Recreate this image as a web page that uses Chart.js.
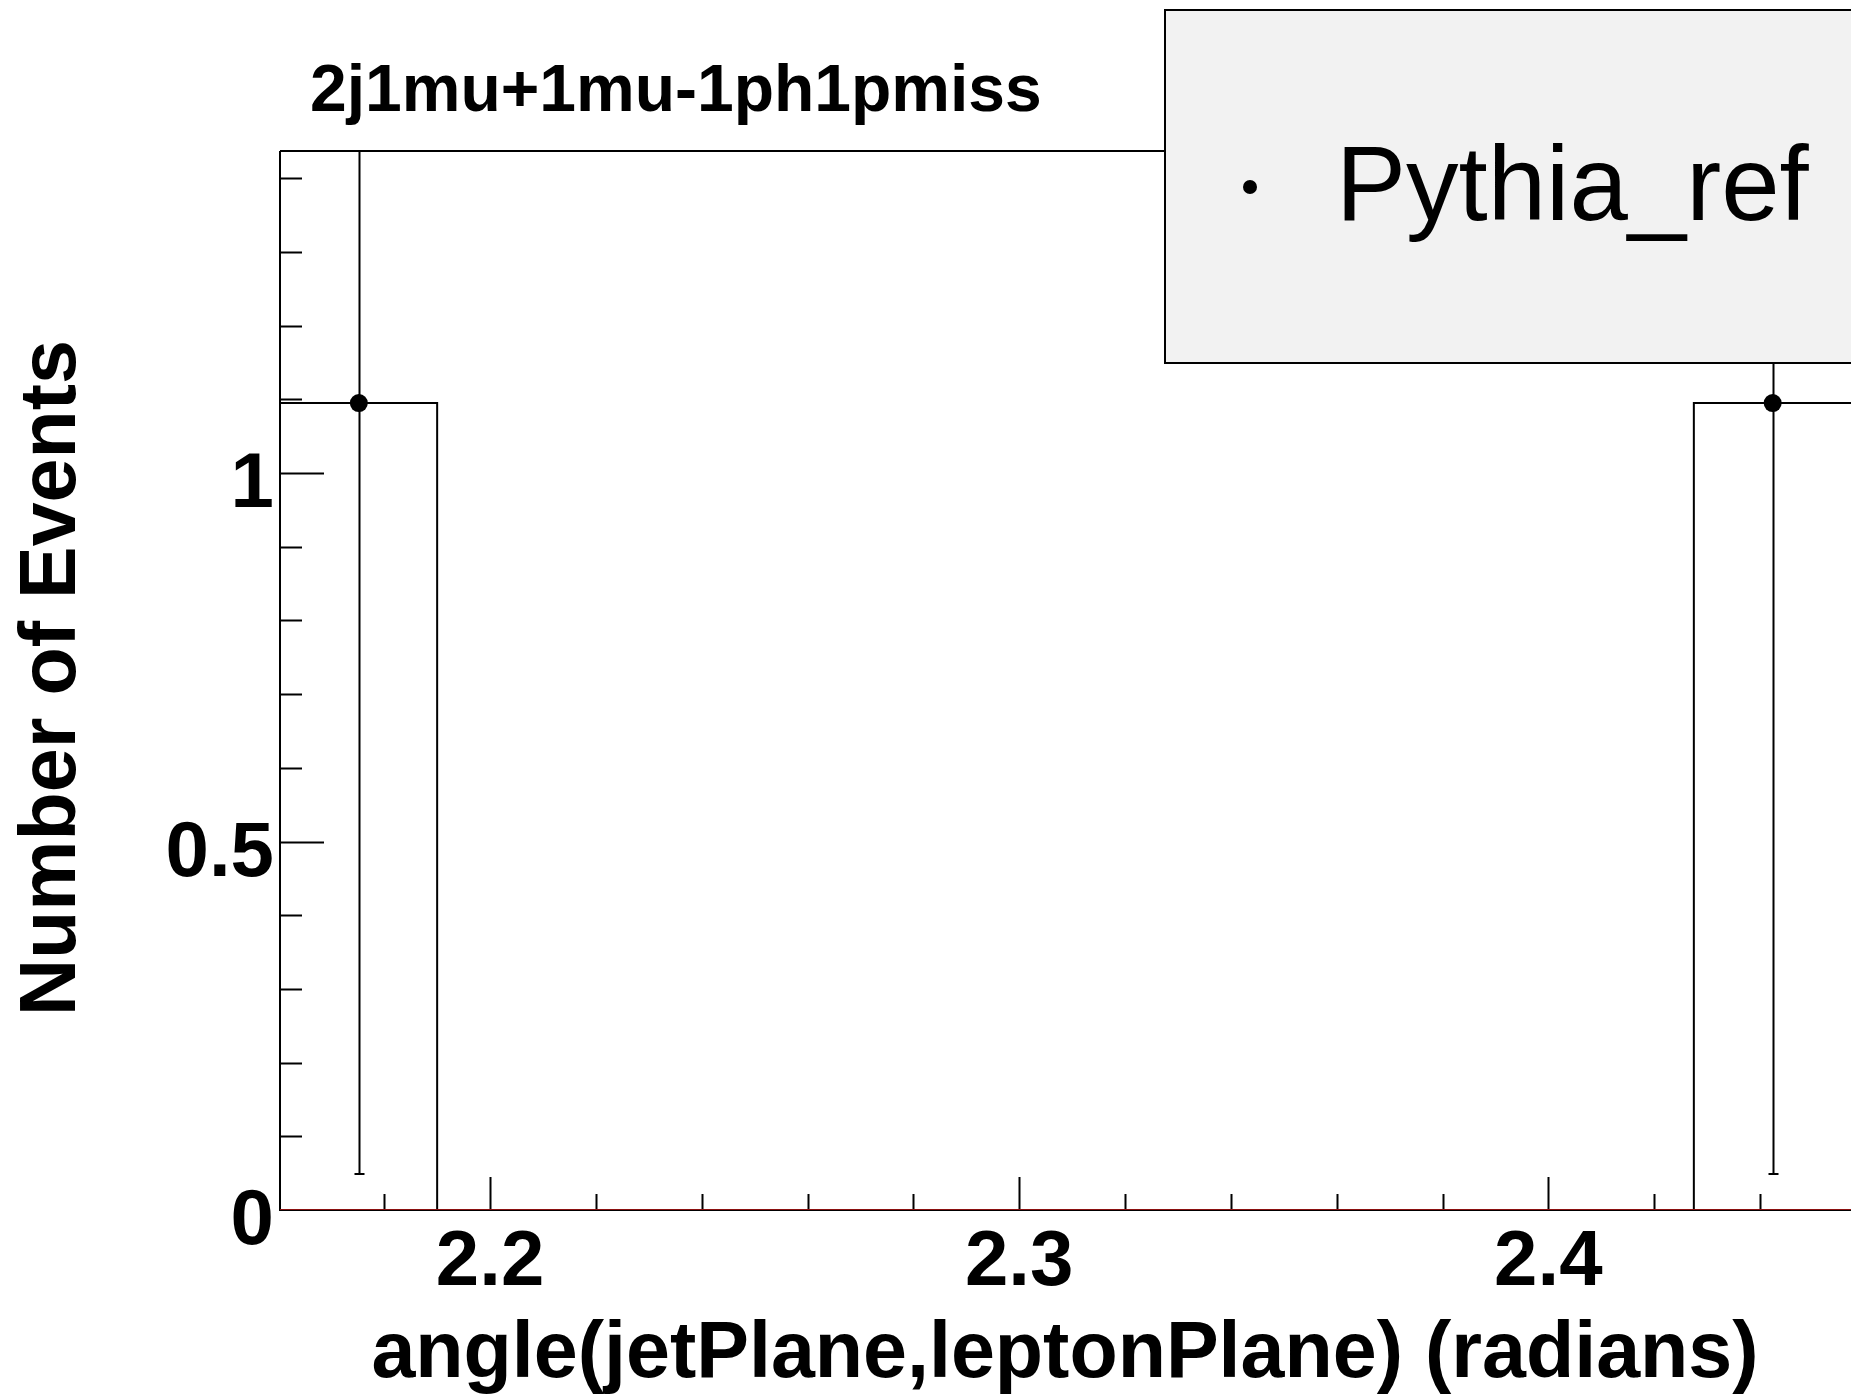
<!DOCTYPE html>
<html>
<head>
  <meta charset="UTF-8">
  <title>2j1mu+1mu-1ph1pmiss</title>
  <script src="https://cdn.jsdelivr.net/npm/chart.js"></script>
  <style>
    body { margin: 0; background: #fff; }
    canvas { display: block; }
  </style>
</head>
<body>
  <canvas id="histChart" width="1851" height="1395"></canvas>

  <script>
    // histogram data
    const binEdges = [2.1603, 2.1900, 2.2197, 2.2494, 2.2790, 2.3087, 2.3384, 2.3681, 2.3978, 2.4275, 2.4572];
    const binCenters = [2.1752, 2.2049, 2.2346, 2.2642, 2.2939, 2.3236, 2.3533, 2.3830, 2.4127, 2.4424];
    const counts = [1.095, 0, 0, 0, 0, 0, 0, 0, 0, 1.095];
    const countErrors = [1.046, 0, 0, 0, 0, 0, 0, 0, 0, 1.046];
    const otherCounts = [0, 0, 0, 0, 0, 0, 0, 0, 0, 0];   // red reference histogram, empty
    const xTickLabels = [2.2, 2.3, 2.4];
    const yTickLabels = [0, 0.5, 1];

    const FONT = "'Liberation Sans', Arial, Helvetica, sans-serif";

    // step outline: one point per bin low edge, plus the last high edge
    function stepPoints(vals) {
      const pts = vals.map((v, i) => ({ x: binEdges[i], y: v }));
      pts.push({ x: binEdges[binEdges.length - 1], y: vals[vals.length - 1] });
      return pts;
    }

    // frame, ticks, error bars, texts and legend
    const rootStyle = {
      id: 'rootStyle',
      beforeDatasetsDraw(chart) {
        const ctx = chart.ctx;
        const a = chart.chartArea;
        const xs = chart.scales.x, ys = chart.scales.y;
        ctx.save();
        ctx.strokeStyle = '#000';
        ctx.lineWidth = 2;
        // frame (left, bottom, top)
        ctx.beginPath();
        ctx.moveTo(a.left, a.top); ctx.lineTo(a.left, a.bottom); ctx.lineTo(a.right, a.bottom);
        ctx.moveTo(a.left, a.top); ctx.lineTo(a.right, a.top);
        ctx.stroke();

        // x ticks
        ctx.beginPath();
        for (let v = 2.18; v < xs.max; v += 0.02) {
          const px = Math.round(xs.getPixelForValue(v)) + 0.5;
          const major = xTickLabels.some(t => Math.abs(t - v) < 1e-6);
          ctx.moveTo(px, a.bottom);
          ctx.lineTo(px, a.bottom - (major ? 33 : 16));
        }
        // y ticks
        for (let v = 0.1; v < ys.max; v += 0.1) {
          const py = Math.round(ys.getPixelForValue(v)) + 0.5;
          const major = yTickLabels.some(t => Math.abs(t - v) < 1e-6);
          ctx.moveTo(a.left, py);
          ctx.lineTo(a.left + (major ? 44 : 22), py);
        }
        ctx.stroke();
        ctx.restore();
      },
      afterDatasetsDraw(chart) {
        const ctx = chart.ctx;
        const a = chart.chartArea;
        const xs = chart.scales.x, ys = chart.scales.y;
        ctx.save();
        ctx.strokeStyle = '#000';
        ctx.lineWidth = 2;
        ctx.beginPath();
        counts.forEach((c, i) => {
          if (c <= 0) return;
          const px = Math.round(xs.getPixelForValue(binCenters[i])) + 0.5;
          const top = Math.max(a.top, ys.getPixelForValue(c + countErrors[i]));
          const bot = ys.getPixelForValue(Math.max(0, c - countErrors[i]));
          ctx.moveTo(px, top); ctx.lineTo(px, bot);
          ctx.moveTo(px - 5, bot); ctx.lineTo(px + 5, bot);
        });
        ctx.stroke();
        ctx.restore();
      },
      afterDraw(chart) {
        const ctx = chart.ctx;
        const xs = chart.scales.x, ys = chart.scales.y;
        ctx.save();
        ctx.fillStyle = '#000';

        // tick labels
        ctx.font = 'bold 78px ' + FONT;
        ctx.textAlign = 'center';
        ctx.textBaseline = 'alphabetic';
        xTickLabels.forEach(t => ctx.fillText(String(t), xs.getPixelForValue(t), 1285));
        ctx.textAlign = 'right';
        yTickLabels.forEach(t => ctx.fillText(String(t), 274, ys.getPixelForValue(t) + 34));

        // histogram title
        ctx.font = 'bold 66px ' + FONT;
        ctx.textAlign = 'left';
        ctx.fillText('2j1mu+1mu-1ph1pmiss', 310, 111);

        // axis titles
        ctx.font = 'bold 79px ' + FONT;
        ctx.textAlign = 'center';
        ctx.fillText('angle(jetPlane,leptonPlane) (radians)', 1065, 1377);
        ctx.save();
        ctx.translate(75, 678);
        ctx.rotate(-Math.PI / 2);
        ctx.font = 'bold 79px ' + FONT;
        ctx.fillText('Number of Events', 0, 0);
        ctx.restore();

        // legend box
        ctx.fillStyle = '#f2f2f2';
        ctx.fillRect(1165, 10, 720, 353);
        ctx.strokeStyle = '#000';
        ctx.lineWidth = 2;
        ctx.strokeRect(1165, 10, 720, 353);
        ctx.fillStyle = '#000';
        ctx.beginPath();
        ctx.arc(1250, 187, 7, 0, Math.PI * 2);
        ctx.fill();
        ctx.font = '105px ' + FONT;
        ctx.textAlign = 'left';
        ctx.fillText('Pythia_ref', 1336, 220);
        ctx.restore();
      }
    };

    new Chart(document.getElementById('histChart').getContext('2d'), {
      type: 'scatter',
      data: {
        datasets: [
          {
            label: 'zero',
            data: stepPoints(otherCounts),
            showLine: true,
            stepped: true,
            borderColor: '#8b1010',
            borderWidth: 2,
            pointRadius: 0
          },
          {
            label: 'outline',
            data: stepPoints(counts),
            showLine: true,
            stepped: true,
            borderColor: '#000',
            borderWidth: 2,
            pointRadius: 0
          },
          {
            label: 'Pythia_ref',
            data: binCenters.map((x, i) => ({ x: x, y: counts[i] })),
            showLine: false,
            pointRadius: c => (counts[c.dataIndex] > 0 ? 9 : 0),
            pointBackgroundColor: '#000',
            pointBorderWidth: 0
          }
        ]
      },
      options: {
        responsive: false,
        devicePixelRatio: 1,
        animation: false,
        layout: { autoPadding: false, padding: { top: 151, left: 0, right: 0, bottom: 0 } },
        plugins: { legend: { display: false }, tooltip: { enabled: false }, title: { display: false } },
        scales: {
          x: {
            type: 'linear',
            min: binEdges[0],
            max: binEdges[binEdges.length - 1],
            grid: { display: false },
            border: { display: false },
            ticks: { display: false },
            afterFit: s => { s.height = 185; s.paddingLeft = 0; s.paddingRight = 0; }
          },
          y: {
            min: 0,
            max: 1.437,
            grid: { display: false },
            border: { display: false },
            ticks: { display: false },
            afterFit: s => { s.width = 280; s.paddingTop = 0; s.paddingBottom = 0; }
          }
        }
      },
      plugins: [rootStyle]
    });
  </script>
</body>
</html>
